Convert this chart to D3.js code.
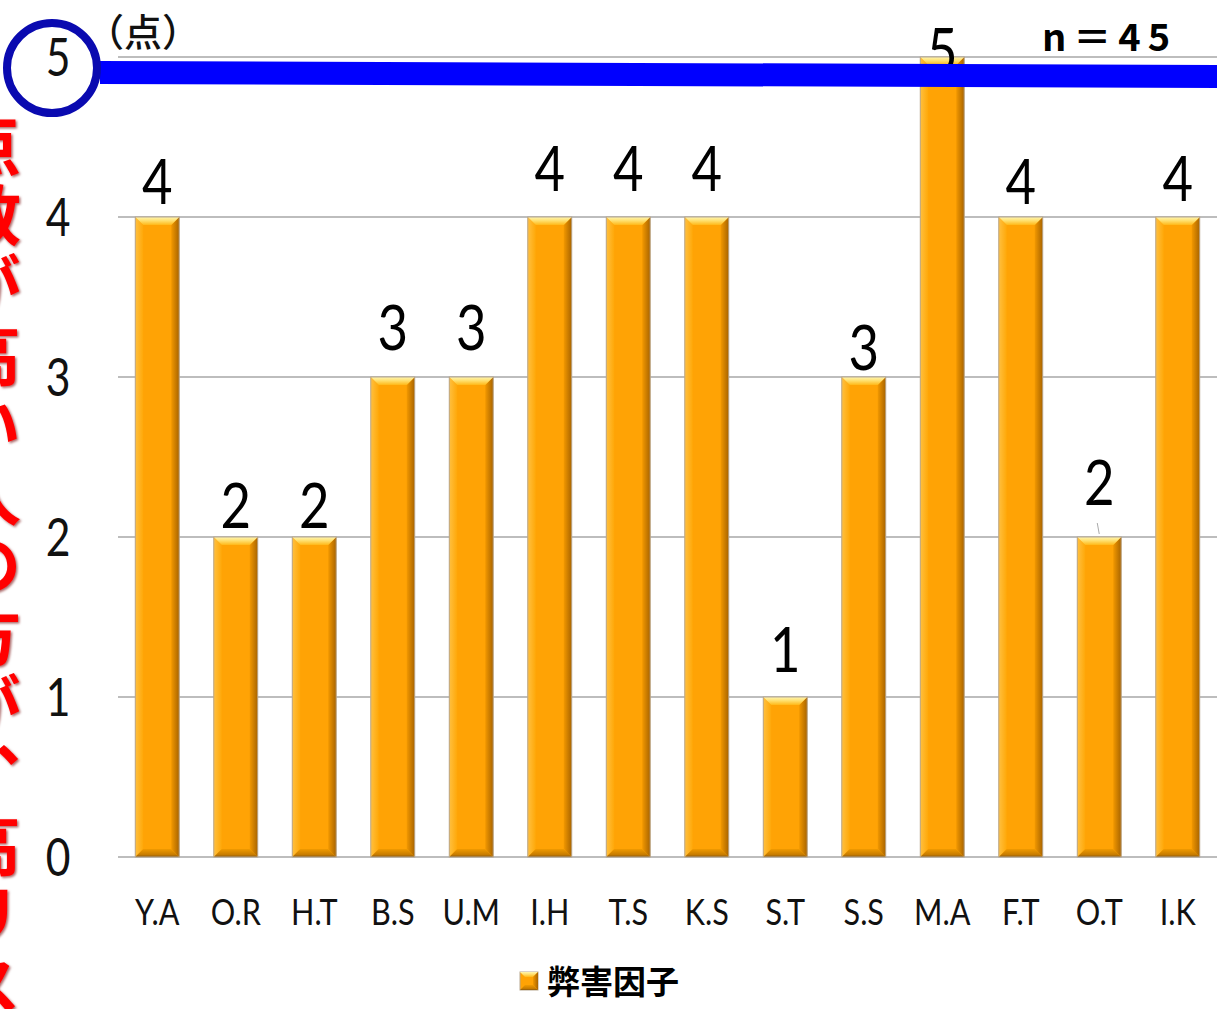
<!DOCTYPE html>
<html>
<head>
<meta charset="utf-8">
<script src="https://cdn.jsdelivr.net/npm/d3@7/dist/d3.min.js"></script>
<style>
  html, body { margin: 0; padding: 0; background: #ffffff; }
  svg { display: block; }
</style>
</head>
<body>
<script>
// Scores per person (harm factor), n = 45
const categories = ["Y.A", "O.R", "H.T", "B.S", "U.M", "I.H", "T.S", "K.S", "S.T", "S.S", "M.A", "F.T", "O.T", "I.K"];
const values = [4, 2, 2, 3, 3, 4, 4, 4, 1, 3, 5, 4, 2, 4];
const yTicks = [0, 1, 2, 3, 4, 5];
const seriesName = "弊害因子";
const unitLabel = "（点）";
const sampleLabel = "n＝45";
const sideNote = "点数が高い人の方が、高リス";
const highlightValue = 5;

const W = 1217, H = 1009;
const svg = d3.select("body").append("svg").attr("width", W).attr("height", H);

const defs = svg.append("defs");
function vGrad(id, stops) {
  const g = defs.append("linearGradient").attr("id", id).attr("x1", 0).attr("y1", 0).attr("x2", 0).attr("y2", 1);
  stops.forEach(([o, c]) => g.append("stop").attr("offset", o).attr("stop-color", c));
}
function hGrad(id, stops) {
  const g = defs.append("linearGradient").attr("id", id).attr("x1", 0).attr("y1", 0).attr("x2", 1).attr("y2", 0);
  stops.forEach(([o, c]) => g.append("stop").attr("offset", o).attr("stop-color", c));
}
vGrad("bevTop", [[0, "#fff6b0"], [0.45, "#ffe070"], [1, "#ffb818"]]);
vGrad("bevBot", [[0, "#f09a00"], [0.7, "#c87c00"], [1, "#8a5a10"]]);
hGrad("bevRight", [[0, "#f29800"], [1, "#a86400"]]);
hGrad("bevLeft", [[0, "#ffc040"], [1, "#ffa808"]]);
defs.append("filter").attr("id", "redShadow")
  .append("feDropShadow").attr("dx", 1.5).attr("dy", 1.5).attr("stdDeviation", 1)
  .attr("flood-color", "#700000").attr("flood-opacity", 0.6);

const x = d3.scaleBand().domain(categories).range([118, 1217]).paddingInner(0.44).paddingOuter(0.22);
const y = d3.scaleLinear().domain([0, 5]).range([857, 57]);

// gridlines
svg.append("g").selectAll("line").data(yTicks).join("line")
  .attr("x1", 118).attr("x2", W)
  .attr("y1", d => y(d)).attr("y2", d => y(d))
  .attr("stroke", "#bdbdbd").attr("stroke-width", 2);

const lblFont = "Lato, 'Noto Sans', sans-serif";

// y-axis tick labels
const yAxis = d3.axisLeft(y).tickValues(yTicks).tickFormat(d3.format("d")).tickSize(0).tickPadding(0);
const ya = svg.append("g").attr("transform", "translate(58,0)").call(yAxis);
ya.select(".domain").remove();
ya.selectAll("text")
  .attr("text-anchor", "middle")
  .attr("dy", "0.36em")
  .attr("font-family", lblFont)
  .attr("font-size", 52)
  .attr("fill", "#111")
  .style("transform-box", "fill-box")
  .style("transform-origin", "center")
  .style("transform", "scaleX(0.82)");

// bars with bevel
const b = 8;
const bars = svg.append("g").selectAll("g").data(categories.map((c, i) => ({ c, v: values[i] }))).join("g");
bars.each(function (d) {
  const g = d3.select(this);
  const x0 = x(d.c), x1 = x0 + x.bandwidth(), y0 = y(d.v), y1 = y(0);
  g.append("rect").attr("x", x0).attr("y", y0).attr("width", x1 - x0).attr("height", y1 - y0)
    .attr("fill", "#ffa305");
  const poly = (pts, fill) => g.append("polygon").attr("points", pts.map(p => p.join(",")).join(" ")).attr("fill", fill);
  poly([[x0, y0], [x0 + b, y0 + b], [x0 + b, y1 - b], [x0, y1]], "url(#bevLeft)");
  poly([[x1, y0], [x1, y1], [x1 - b, y1 - b], [x1 - b, y0 + b]], "url(#bevRight)");
  poly([[x0, y1], [x1, y1], [x1 - b, y1 - b], [x0 + b, y1 - b]], "url(#bevBot)");
  poly([[x0, y0], [x1, y0], [x1 - b, y0 + b], [x0 + b, y0 + b]], "url(#bevTop)");
  g.append("rect").attr("x", x0).attr("y", y0).attr("width", x1 - x0).attr("height", y1 - y0)
    .attr("fill", "none").attr("stroke", "#b8a890").attr("stroke-width", 1);
});

// value labels (baseline offsets from each bar top)
const labelNudge = [0, 4, 4, -14, -14, -13, -13, -13, -12, 6, 29, 0, -19, -3];
bars.append("text")
  .attr("x", d => x(d.c) + x.bandwidth() / 2)
  .attr("y", (d, i) => y(d.v) - 13 + labelNudge[i])
  .attr("text-anchor", "middle")
  .attr("font-family", lblFont)
  .attr("font-size", 62)
  .attr("fill", "#000")
  .style("transform-box", "fill-box")
  .style("transform-origin", "center")
  .style("transform", "scaleX(0.85)")
  .text(d => d.v);

// leader line for the raised O.T label
{
  const i = categories.indexOf("O.T");
  const cx = x(categories[i]) + x.bandwidth() / 2;
  svg.append("line").attr("x1", cx - 2).attr("y1", y(values[i]) - 14).attr("x2", cx).attr("y2", y(values[i]) - 3)
    .attr("stroke", "#aaa").attr("stroke-width", 1);
}

// category labels
const xAxis = d3.axisBottom(x).tickSize(0).tickPadding(0);
const xa = svg.append("g").attr("transform", "translate(0,912)").call(xAxis);
xa.select(".domain").remove();
xa.selectAll("text")
  .attr("dy", "0.36em")
  .attr("font-family", lblFont)
  .attr("font-size", 36)
  .attr("fill", "#111")
  .style("transform-box", "fill-box")
  .style("transform-origin", "center")
  .style("transform", "scaleX(0.85)");

// unit label and sample size
svg.append("text").attr("x", 86).attr("y", 46)
  .attr("font-family", "'Noto Sans CJK JP', sans-serif").attr("font-weight", 500)
  .attr("font-size", 38).attr("fill", "#111").text(unitLabel);
svg.append("text").attr("x", 1042).attr("y", 51)
  .attr("font-family", "'Noto Sans CJK JP', sans-serif").attr("font-weight", 700)
  .attr("font-size", 38).attr("letter-spacing", 7).attr("fill", "#000").text(sampleLabel);

// highlight band at the top score
svg.append("polygon")
  .attr("points", [[100, y(highlightValue) + 4], [W, y(highlightValue) + 8], [W, y(highlightValue) + 31], [100, y(highlightValue) + 27]].map(p => p.join(",")).join(" "))
  .attr("fill", "#0000ff");
svg.append("circle").attr("cx", 52).attr("cy", 68).attr("r", 45)
  .attr("fill", "none").attr("stroke", "#0a0ab0").attr("stroke-width", 8);

// legend
const lg = svg.append("g").attr("transform", "translate(520,972)");
{
  const s = 18, bb = 5;
  lg.append("rect").attr("width", s).attr("height", s).attr("fill", "#ffa305").attr("stroke", "#b8a890");
  const p = (pts, f) => lg.append("polygon").attr("points", pts.map(q => q.join(",")).join(" ")).attr("fill", f);
  p([[0, 0], [s, 0], [s - bb, bb], [bb, bb]], "url(#bevTop)");
  p([[s, 0], [s, s], [s - bb, s - bb], [s - bb, bb]], "url(#bevRight)");
  p([[0, s], [s, s], [s - bb, s - bb], [bb, s - bb]], "url(#bevBot)");
}
lg.append("text").attr("x", 27).attr("y", 10).attr("dy", "0.36em")
  .attr("font-family", "'Noto Sans CJK JP', sans-serif").attr("font-weight", 700)
  .attr("font-size", 33).attr("fill", "#000").text(seriesName);

// red side note, running vertically off the left edge
svg.append("text")
  .attr("x", -12).attr("y", 112)
  .attr("font-family", "'Noto Sans CJK JP', sans-serif").attr("font-weight", 700)
  .attr("font-size", 66).attr("letter-spacing", 4)
  .attr("fill", "#ff0000")
  .attr("filter", "url(#redShadow)")
  .style("writing-mode", "vertical-rl")
  .style("text-orientation", "upright")
  .text(sideNote);
</script>
</body>
</html>
